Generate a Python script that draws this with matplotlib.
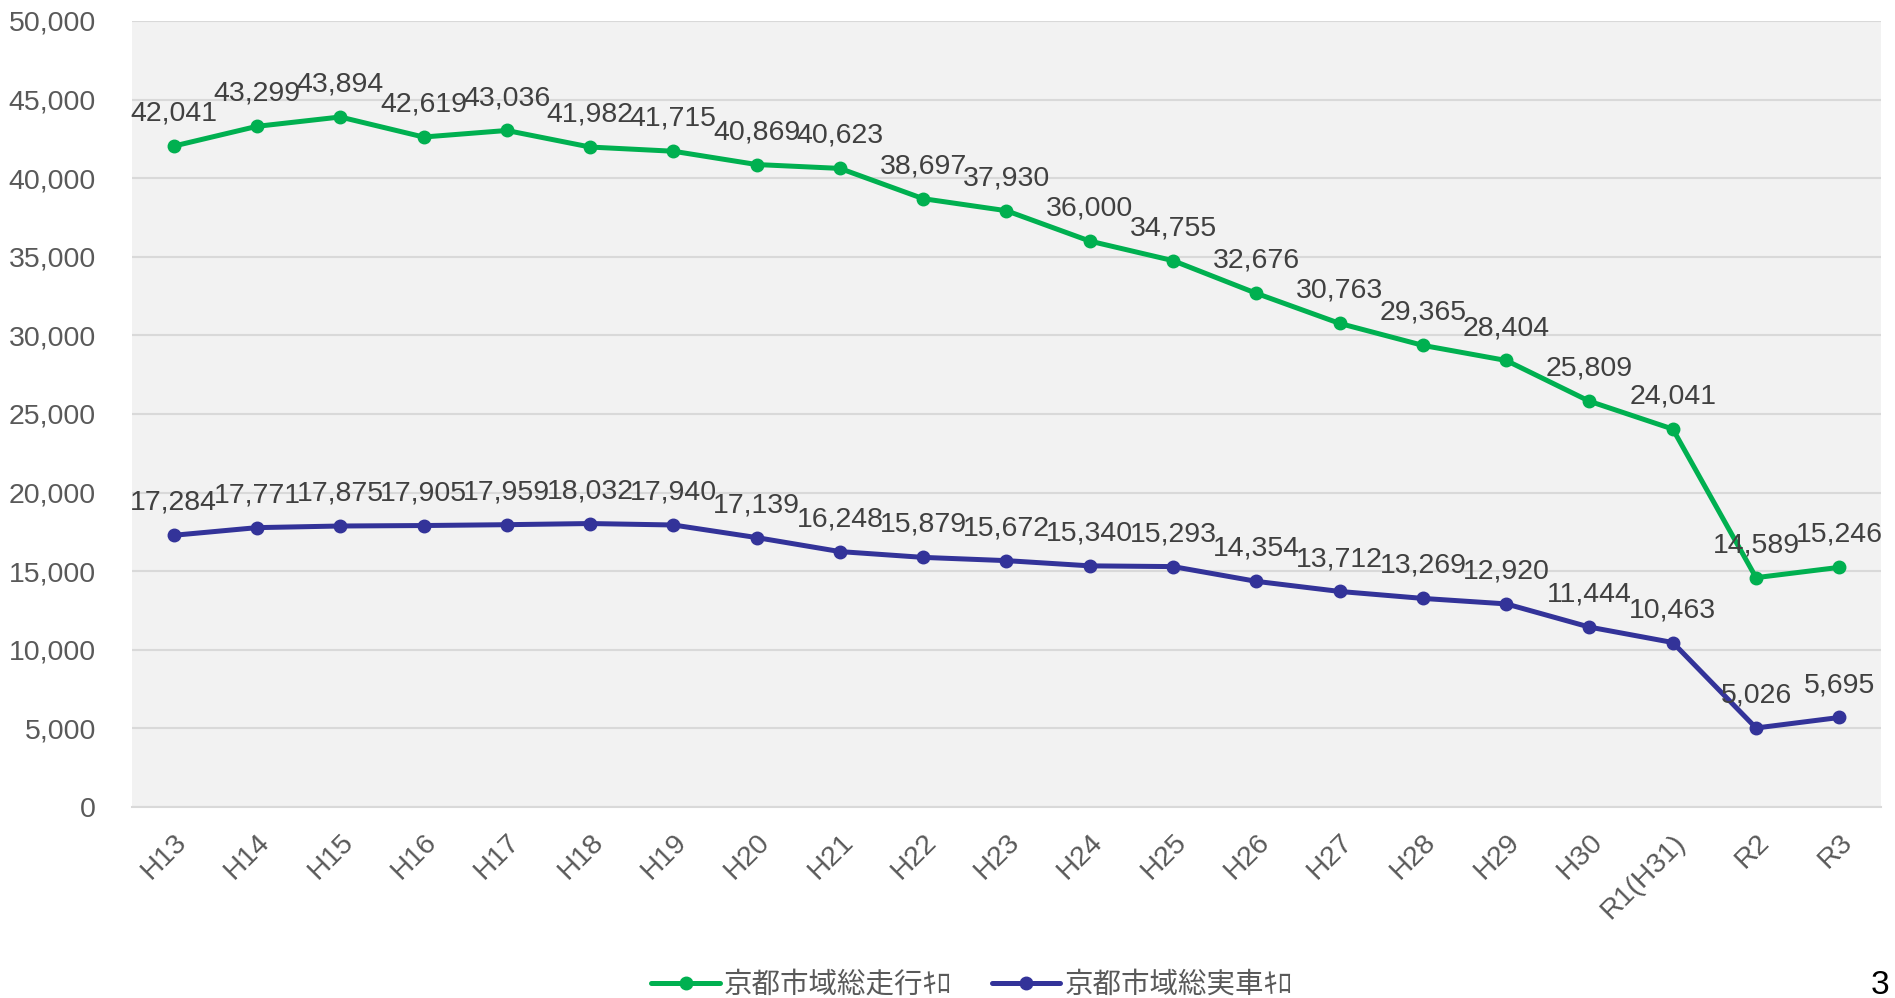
import matplotlib
matplotlib.use("Agg")
import matplotlib.pyplot as plt
from matplotlib.ticker import FuncFormatter, MultipleLocator

plt.rcParams['font.family'] = ['Liberation Sans', 'Noto Sans CJK JP', 'DejaVu Sans']

categories = ["H13", "H14", "H15", "H16", "H17", "H18", "H19", "H20", "H21", "H22", "H23",
              "H24", "H25", "H26", "H27", "H28", "H29", "H30", "R1(H31)", "R2", "R3"]
total_km = [42041, 43299, 43894, 42619, 43036, 41982, 41715, 40869, 40623, 38697, 37930,
            36000, 34755, 32676, 30763, 29365, 28404, 25809, 24041, 14589, 15246]
actual_km = [17284, 17771, 17875, 17905, 17959, 18032, 17940, 17139, 16248, 15879, 15672,
             15340, 15293, 14354, 13712, 13269, 12920, 11444, 10463, 5026, 5695]
series_names = ["京都市域総走行ｷﾛ", "京都市域総実車ｷﾛ"]
colors = ["#00B050", "#333399"]

W, H = 1895, 998
fig = plt.figure(figsize=(W / 100, H / 100), dpi=100)
ax = fig.add_axes([132 / W, 1 - 807 / H, (1881 - 132) / W, (807 - 21) / H])
ax.set_facecolor("#F2F2F2")

x = list(range(len(categories)))
for vals, name, c in zip([total_km, actual_km], series_names, colors):
    ax.plot(x, vals, color=c, lw=3.6, marker="o", markersize=9, label=name,
            solid_capstyle="round", zorder=3)
    for xi, v in zip(x, vals):
        ax.annotate(f"{v:,}", (xi, v), xytext=(0, 14), textcoords="offset points",
                    ha="center", va="bottom", fontsize=20.5, color="#404040", zorder=4)

ax.set_xlim(-0.5, len(categories) - 0.5)
ax.set_ylim(0, 50000)
ax.yaxis.set_major_locator(MultipleLocator(5000))
ax.yaxis.set_major_formatter(FuncFormatter(lambda v, p: f"{int(v):,}"))
ax.grid(axis="y", color="#D9D9D9", lw=1.5, zorder=0)
ax.set_axisbelow(True)
for s in ["top", "right", "left"]:
    ax.spines[s].set_visible(False)
ax.spines["bottom"].set_color("#D9D9D9")
ax.spines["bottom"].set_linewidth(1.5)
ax.tick_params(axis="both", length=0, labelsize=20.5, labelcolor="#595959")
ax.tick_params(axis="y", pad=26)
ax.set_xticks(x)
ax.set_xticklabels(categories, rotation=45, ha="right", rotation_mode="anchor")
ax.tick_params(axis="x", pad=16)

leg = fig.legend(loc="center", bbox_to_anchor=(972 / W, 1 - 985 / H), ncol=2, frameon=False,
                 fontsize=20.5, handlelength=2.4, columnspacing=1.4, handletextpad=0.15)
for t in leg.get_texts():
    t.set_color("#595959")
    t.set_fontfamily(["Noto Sans CJK JP", "DejaVu Sans"])

fig.text(1880 / W, 1 - 985 / H, "3", fontsize=24, color="black", ha="center", va="center")

fig.savefig("out.png", dpi=100)
